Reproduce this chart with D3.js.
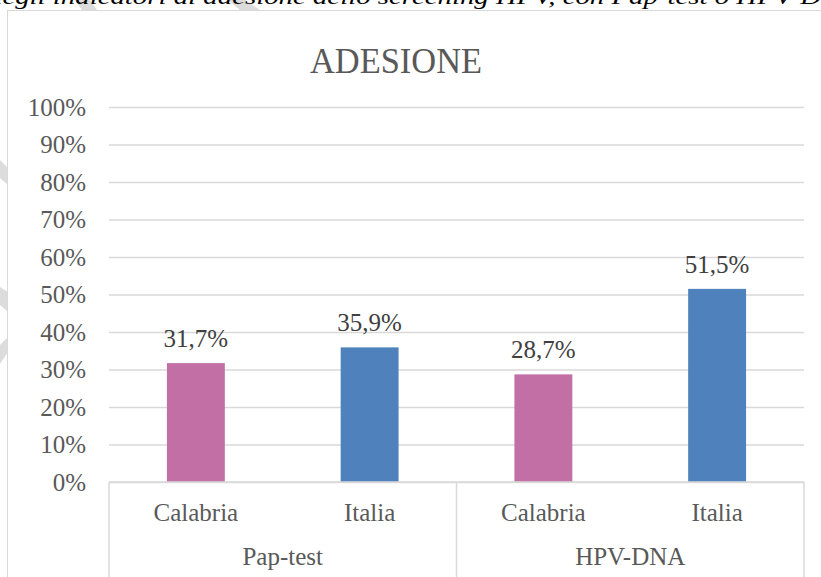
<!DOCTYPE html>
<html>
<head>
<meta charset="utf-8">
<script src="https://cdn.jsdelivr.net/npm/d3@7"></script>
<style>
  html, body { margin: 0; padding: 0; background: #ffffff; }
  svg { display: block; }
</style>
</head>
<body>
<svg id="chart" width="821" height="577"></svg>
<script>
// ---- data ----
const categories = ["Calabria", "Italia", "Calabria", "Italia"];
const groups = ["Pap-test", "HPV-DNA"];
const values = [31.7, 35.9, 28.7, 51.5];
const valueLabels = ["31,7%", "35,9%", "28,7%", "51,5%"];
const barColors = ["#C26FA6", "#4F81BD", "#C26FA6", "#4F81BD"];
const yTicks = [0, 10, 20, 30, 40, 50, 60, 70, 80, 90, 100];
const chartTitle = "ADESIONE";
const caption = "degli indicatori di adesione dello screening HPV, con Pap-test o HPV-DNA";

// ---- layout ----
const W = 821, H = 577;
const plot = { left: 109, right: 804, top: 107, bottom: 482 };
const titleX = 396;
const svg = d3.select("#chart");
const font = "'Liberation Serif', 'Times New Roman', serif";

// watermark fragments (light grey) visible in the page margin
const wm = svg.append("g").attr("fill", "#dcdcdc");
[[[0,160],[8,168],[8,185],[0,178]],
 [[0,287],[8,292],[8,312],[0,305]],
 [[8,337],[8,352],[0,364],[0,345]],
 [[75,0],[90,0],[97,10],[82,10]],
 [[228,0],[245,0],[260,10],[240,10]]].forEach(p => {
  wm.append("polygon").attr("points", p.map(d => d.join(",")).join(" "));
});

// caption text (cut off at top of page, as in the source)
svg.append("text")
  .attr("x", -12).attr("y", 4)
  .attr("font-family", font).attr("font-style", "italic")
  .attr("font-size", 22).attr("fill", "#000")
  .attr("textLength", 870).attr("lengthAdjust", "spacingAndGlyphs")
  .text(caption);

// chart frame
svg.append("rect")
  .attr("x", 7.5).attr("y", 10.5)
  .attr("width", 830).attr("height", 600)
  .attr("fill", "#ffffff").attr("stroke", "#d9d9d9").attr("stroke-width", 1);

// scales
const x = d3.scaleBand().domain(d3.range(categories.length))
  .range([plot.left, plot.right]).paddingInner(0).paddingOuter(0);
const y = d3.scaleLinear().domain([0, 100]).range([plot.bottom, plot.top]);
const barW = x.bandwidth() / 3;

// title
svg.append("text")
  .attr("x", titleX)
  .attr("y", 73)
  .attr("text-anchor", "middle")
  .attr("font-family", font).attr("font-size", 36).attr("fill", "#595959")
  .attr("textLength", 172).attr("lengthAdjust", "spacingAndGlyphs")
  .text(chartTitle);

// gridlines + y axis labels
const yAxis = d3.axisLeft(y).tickValues(yTicks).tickSize(-(plot.right - plot.left))
  .tickPadding(23).tickFormat(d => d + "%");
const gy = svg.append("g").attr("transform", `translate(${plot.left},0)`).call(yAxis);
gy.select(".domain").remove();
gy.selectAll(".tick line").attr("stroke", "#d9d9d9").attr("stroke-width", 1.5);
gy.selectAll(".tick text")
  .attr("font-family", font).attr("font-size", 25).attr("fill", "#595959")
  .attr("dy", "0.32em");

// bars
svg.append("g").selectAll("rect").data(values).join("rect")
  .attr("x", (d, i) => x(i) + (x.bandwidth() - barW) / 2)
  .attr("y", d => y(d))
  .attr("width", barW)
  .attr("height", d => y(0) - y(d))
  .attr("fill", (d, i) => barColors[i]);

// data labels
svg.append("g").selectAll("text").data(values).join("text")
  .attr("x", (d, i) => x(i) + x.bandwidth() / 2)
  .attr("y", d => y(d) - 16)
  .attr("text-anchor", "middle")
  .attr("font-family", font).attr("font-size", 25).attr("fill", "#404040")
  .text((d, i) => valueLabels[i]);

// category axis (multi-level)
const axG = svg.append("g").attr("stroke", "#d9d9d9").attr("stroke-width", 1.5);
axG.append("line").attr("x1", plot.left).attr("x2", plot.right)
  .attr("y1", y(0)).attr("y2", y(0));
const perGroup = categories.length / groups.length;
const groupEdges = d3.range(groups.length + 1).map(g =>
  g < groups.length ? x(g * perGroup) : plot.right);
axG.selectAll("line.v").data(groupEdges).join("line").attr("class", "v")
  .attr("x1", d => d).attr("x2", d => d)
  .attr("y1", y(0)).attr("y2", H + 5);

svg.append("g").selectAll("text").data(categories).join("text")
  .attr("x", (d, i) => x(i) + x.bandwidth() / 2)
  .attr("y", 521)
  .attr("text-anchor", "middle")
  .attr("font-family", font).attr("font-size", 25).attr("fill", "#595959")
  .text(d => d);

svg.append("g").selectAll("text").data(groups).join("text")
  .attr("x", (d, g) => (groupEdges[g] + groupEdges[g + 1]) / 2)
  .attr("y", 565)
  .attr("text-anchor", "middle")
  .attr("font-family", font).attr("font-size", 25).attr("fill", "#595959")
  .text(d => d);
</script>
</body>
</html>
